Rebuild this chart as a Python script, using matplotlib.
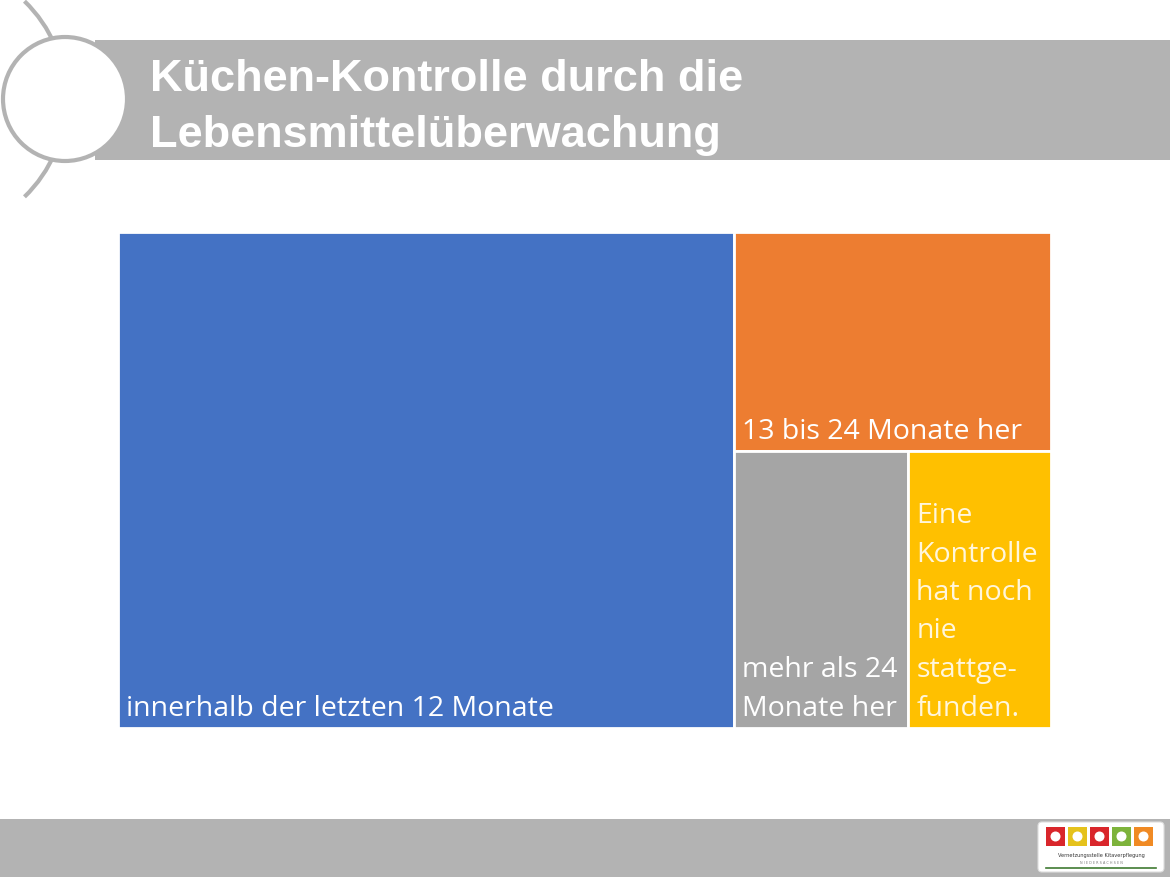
import matplotlib
matplotlib.use("Agg")
import matplotlib.pyplot as plt
from matplotlib.patches import Rectangle, Circle, Arc, FancyBboxPatch

# ---- data ----
categories = ["innerhalb der letzten 12 Monate", "13 bis 24 Monate her",
              "mehr als 24\nMonate her",
              "Eine\nKontrolle\nhat noch\nnie\nstattge-\nfunden."]
values = [66.1, 15.0, 10.4, 8.5]
colors = ["#4472C4", "#ED7D31", "#A5A5A5", "#FFC000"]
text_colors = ["white", "white", "white", "#FFF6DC"]
title_lines = ["Küchen-Kontrolle durch die", "Lebensmittelüberwachung"]

W, H = 1170, 878
fig = plt.figure(figsize=(W / 100, H / 100), dpi=100)
fig.patch.set_facecolor("white")

# background / decoration axes in pixel coordinates (y downward)
bg = fig.add_axes([0, 0, 1, 1])
bg.set_xlim(0, W)
bg.set_ylim(H, 0)
bg.axis("off")
hdr_gray = "#B3B3B3"
bg.add_patch(Rectangle((95, 41), W - 95, 120, color=hdr_gray, lw=0))
bg.add_patch(Rectangle((0, 820), W, 58, color=hdr_gray, lw=0))
bg.add_patch(Arc((-70, 100), 272, 272, theta1=-46, theta2=46, color=hdr_gray, lw=3))
bg.add_patch(Circle((65, 100), 62, facecolor="white", edgecolor=hdr_gray, lw=3, zorder=3))
for i, line in enumerate(title_lines):
    bg.text(150, 91 + i * 56, line, color="white", fontsize=32.5,
            fontweight="bold", family="Liberation Sans", va="baseline", ha="left")

# logo
bg.add_patch(FancyBboxPatch((1038, 823), 126, 50, boxstyle="round,pad=0,rounding_size=4",
                            facecolor="white", edgecolor="#DDDDDD", lw=0.8, zorder=4))
logo_cols = ["#D9262B", "#E5C21C", "#D9262B", "#7DB33B", "#F08A24"]
for i, c in enumerate(logo_cols):
    bg.add_patch(Rectangle((1046 + i * 22, 828), 19, 19, facecolor=c, lw=0, zorder=5))
    bg.add_patch(Circle((1055.5 + i * 22, 837.5), 5, facecolor="white", lw=0, zorder=6))
bg.text(1101, 856, "Vernetzungsstelle Kitaverpflegung", fontsize=3.6, ha="center",
        va="center", color="#333333", zorder=6)
bg.text(1101, 863, "N I E D E R S A C H S E N", fontsize=2.4, ha="center",
        va="center", color="#777777", zorder=6)
bg.plot([1046, 1156], [869, 869], color="#3F7A32", lw=1.2, zorder=6)


# ---- treemap (squarify layout) ----
def worst(row, side):
    s = sum(row)
    return max(max(side * side * r / (s * s), (s * s) / (side * side * r)) for r in row)


def squarify(sizes, x, y, w, h):
    if not sizes:
        return []
    if len(sizes) == 1:
        return [(x, y, w, h)]
    side = min(w, h)
    i = 1
    while i < len(sizes) and worst(sizes[:i + 1], side) <= worst(sizes[:i], side):
        i += 1
    row = sizes[:i]
    s = sum(row)
    rects = []
    if w >= h:
        cw = s / h
        yy = y
        for r in row:
            rh = r / cw
            rects.append((x, yy, cw, rh))
            yy += rh
        return rects + squarify(sizes[i:], x + cw, y, w - cw, h)
    else:
        rh = s / w
        xx = x
        for r in row:
            rw = r / rh
            rects.append((xx, y, rw, rh))
            xx += rw
        return rects + squarify(sizes[i:], x, y + rh, w, h - rh)


TW, TH = 933, 496
ax = fig.add_axes([117.5 / W, 1 - (232.5 + TH) / H, TW / W, TH / H])
ax.set_xlim(0, TW)
ax.set_ylim(TH, 0)
ax.axis("off")
total = sum(values)
sizes = [v / total * TW * TH for v in values]
rects = squarify(sizes, 0, 0, TW, TH)
for (rx, ry, rw, rh), lab, c, tc in zip(rects, categories, colors, text_colors):
    ax.add_patch(Rectangle((rx, ry), rw, rh, facecolor=c, edgecolor="white", lw=2))
    ax.text(rx + 8, ry + rh - 13, lab, color=tc, fontsize=20.5, family="Open Sans",
            ha="left", va="baseline", linespacing=1.5)

fig.savefig("out.png", dpi=100, facecolor="white")
